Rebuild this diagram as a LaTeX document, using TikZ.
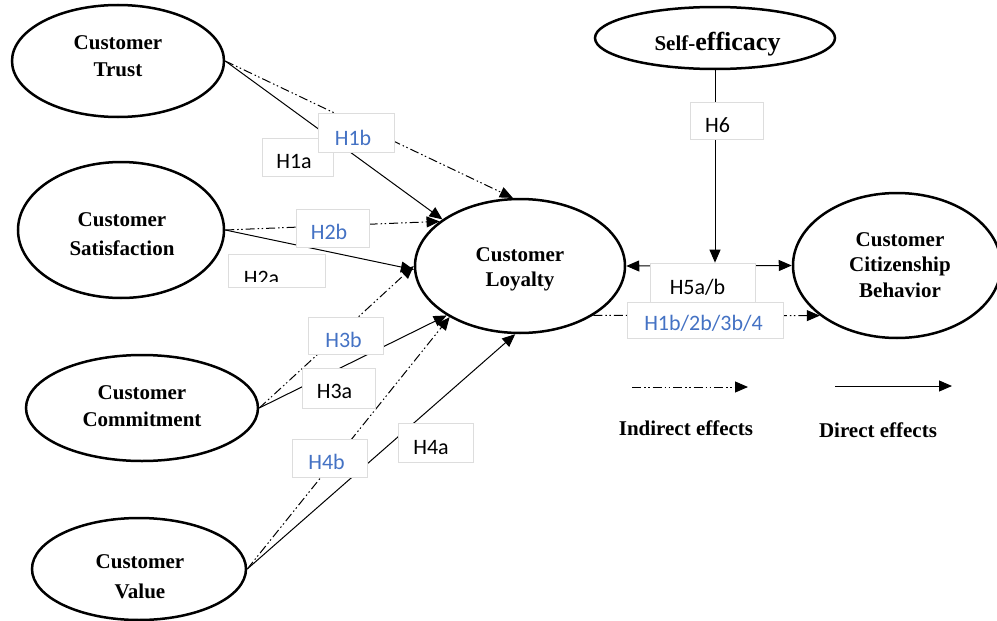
\documentclass[tikz,border=0pt]{standalone}
\usepackage{fontspec}
\setmainfont{Liberation Serif}
\newfontfamily\hfont{Carlito}
\usetikzlibrary{arrows.meta,shapes.geometric}
\definecolor{hblue}{HTML}{4472C4}
\definecolor{boxgray}{HTML}{DDDDDD}
\newcommand{\ml}[1]{\begin{tabular}[t]{@{}c@{}}#1\end{tabular}}
\begin{document}
\begin{tikzpicture}[x=1pt,y=-1pt,
  ell/.style={draw, ellipse, line width=2.5pt, inner sep=0pt},
  lbl/.style={inner sep=0pt, anchor=base},
  dirarrow/.style={line width=1pt, -{Triangle[length=13pt,width=11pt]}},
  indarrow/.style={dirarrow, dash pattern=on 9pt off 3pt on 1.5pt off 2.5pt on 1.5pt off 3pt},
  hbox/.style={draw=boxgray, fill=white, line width=0.7pt, inner sep=0pt},
  htext/.style={lbl, font=\hfont\fontsize{22}{26}\selectfont},
  btext/.style={lbl, font=\hfont\fontsize{22}{26}\selectfont, text=hblue}
]
\fill[white] (0,0) rectangle (997,621);
\path[use as bounding box] (0,0) rectangle (997,621);

% ellipses
\node[ell, minimum width=212pt, minimum height=112pt] (trust) at (118,61) {};
\node[ell, minimum width=206pt, minimum height=136pt] (sat) at (121,230) {};
\node[ell, minimum width=232pt, minimum height=106pt] (com) at (142,408) {};
\node[ell, minimum width=214pt, minimum height=102pt] (val) at (139,569) {};
\node[ell, minimum width=210pt, minimum height=134pt] (loyal) at (520,266) {};
\node[ell, minimum width=240pt, minimum height=62pt] (self) at (715,38) {};
\node[ell, minimum width=208pt, minimum height=145pt] (ccb) at (897,265.5) {};

% connectors
\draw[dirarrow] (trust.east) -- (loyal.149);
\draw[indarrow] (trust.east) -- (loyal.96);
\draw[indarrow] (sat.east) -- (loyal.151);
\draw[dirarrow] (sat.east) -- (loyal.182);
\draw[indarrow] (com.east) -- (loyal.180);
\draw[dirarrow] (com.east) -- (loyal.214);
\draw[indarrow] (val.east) -- (loyal.216);
\draw[dirarrow] (val.east) -- (loyal.266);
\draw[line width=1pt, {Triangle[length=13pt,width=11pt]}-{Triangle[length=13pt,width=11pt]}] (loyal.east) -- (ccb.west);
\draw[indarrow] (loyal.326) -- (ccb.213);

% boxes
\node[hbox, minimum width=71pt, minimum height=38pt] (bH1a) at (297.5,157) {};
\node[hbox, minimum width=76pt, minimum height=39pt] (bH1b) at (356,132.5) {};
\node[hbox, minimum width=73pt, minimum height=38pt] (bH2b) at (332.5,228) {};
\node[hbox, minimum width=97pt, minimum height=33pt] (bH2a) at (276.5,270.5) {};
\node[hbox, minimum width=75pt, minimum height=37pt] (bH3b) at (345.5,335.5) {};
\node[hbox, minimum width=73pt, minimum height=40pt] (bH3a) at (338.5,388) {};
\node[hbox, minimum width=75pt, minimum height=39pt] (bH4a) at (435.5,442.5) {};
\node[hbox, minimum width=75pt, minimum height=38pt] (bH4b) at (329.5,458) {};
\node[hbox, minimum width=105pt, minimum height=39pt] (bH5) at (702.5,282.5) {};
\node[hbox, minimum width=156pt, minimum height=36pt] (bH1b4) at (705,320) {};

% H6 arrow and box
\draw[dirarrow] (self.south) -- (self.south |- bH5.north);
\node[hbox, minimum width=73pt, minimum height=37pt] (bH6) at (726.5,120.5) {};

% box texts
\node[htext] (tH1a) at (294,168) {H1a};
\node[btext] (tH1b) at (353,145) {H1b};
\node[btext] (tH2b) at (329,239) {H2b};
\begin{scope}
  \clip ([yshift=-1pt]bH2a.north west) rectangle ([yshift=6pt]bH2a.south east);
  \node[htext] (tH2a) at (261.5,285) {H2a};
\end{scope}
\node[btext] (tH3b) at (343.5,347) {H3b};
\node[htext] (tH3a) at (334.5,398) {H3a};
\node[htext] (tH4a) at (431,454) {H4a};
\node[btext] (tH4b) at (326.5,469) {H4b};
\node[htext] (tH6) at (717.5,132) {H6};
\node[htext] (tH5) at (697.5,294) {H5a/b};
\node[btext] (tH1b4) at (703.5,330) {H1b/2b/3b/4};

% ellipse texts
\node[lbl, font=\bfseries\fontsize{21}{27}\selectfont] (trustT) at (118,49) {\ml{Customer\\Trust}};
\node[lbl, font=\bfseries\fontsize{21}{29}\selectfont] (satT) at (122,226) {\ml{Customer\\Satisfaction}};
\node[lbl, font=\bfseries\fontsize{21}{27}\selectfont] (comT) at (142,399) {\ml{Customer\\Commitment}};
\node[lbl, font=\bfseries\fontsize{21}{30}\selectfont] (valT) at (140,568) {\ml{Customer\\Value}};
\node[lbl, font=\bfseries\fontsize{21}{25.5}\selectfont] (loyalT) at (520,261) {\ml{Customer\\Loyalty}};
\node[lbl, font=\bfseries\fontsize{21}{25.5}\selectfont] (ccbT) at (900,246) {\ml{Customer\\Citizenship\\Behavior}};
\node[lbl, font=\bfseries] (selfT) at (717.5,50) {{\fontsize{21}{25}\selectfont Self-}{\fontsize{26}{30}\selectfont efficacy}};

% legend
\coordinate (li1) at (632,387);
\coordinate (li2) at (748,387);
\coordinate (ld1) at (835,386);
\coordinate (ld2) at (952,386);
\draw[indarrow] (li1) -- (li2);
\draw[dirarrow] (ld1) -- (ld2);
\node[lbl, font=\bfseries\fontsize{21}{25}\selectfont] (indT) at (686,435) {Indirect effects};
\node[lbl, font=\bfseries\fontsize{21}{25}\selectfont] (dirT) at (878,437) {Direct effects};
\end{tikzpicture}
\end{document}
